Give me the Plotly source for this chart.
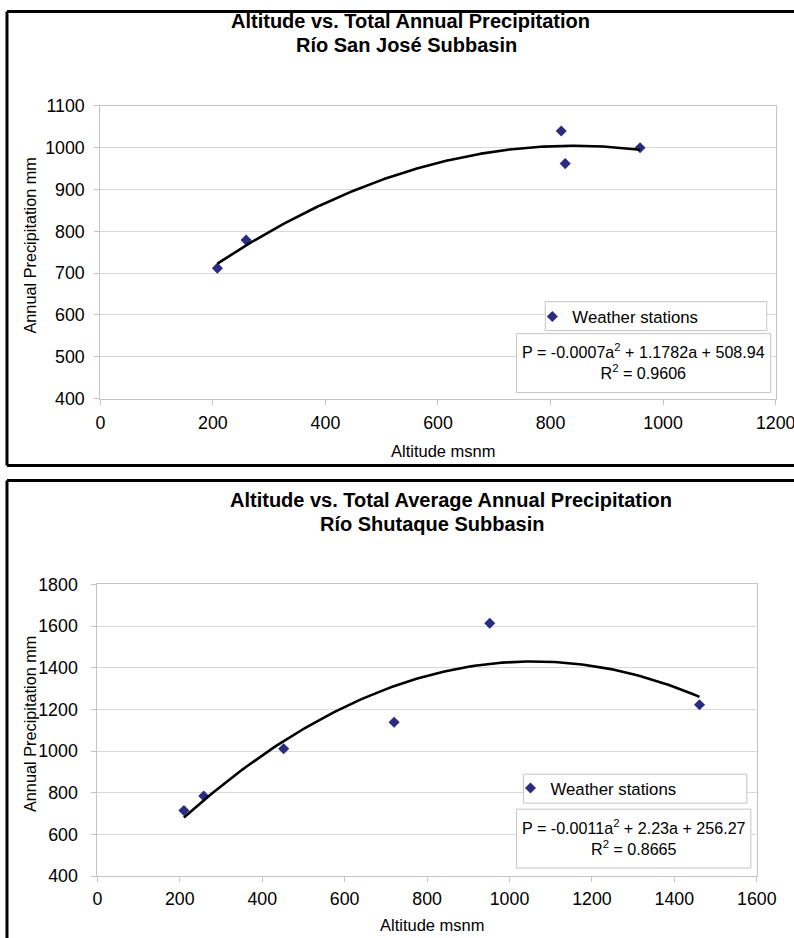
import numpy as np
import plotly.graph_objects as go

# The photographed window shows the page slightly reduced, so positions
# measured on the reference (ref px) are turned into page px first.
SX, OX = 0.976, 2.0
SY, OY = 0.98, 8.0
FW, FH = 814, 950

# ---- data ----
sj_altitude = [208, 259, 819, 826, 959]
sj_precip = [712, 779, 1040, 962, 1000]
sj_equation = "P = -0.0007a<sup>2</sup> + 1.1782a + 508.94<br>R<sup>2</sup> = 0.9606"
sj_title = ["Altitude vs. Total Annual Precipitation", "Río San José Subbasin"]
sj_xticks = [0, 200, 400, 600, 800, 1000, 1200]
sj_yticks = [400, 500, 600, 700, 800, 900, 1000, 1100]

sh_altitude = [210, 258, 452, 720, 952, 1461]
sh_precip = [715, 784, 1011, 1138, 1613, 1222]
sh_equation = "P = -0.0011a<sup>2</sup> + 2.23a + 256.27<br>R<sup>2</sup> = 0.8665"
sh_title = ["Altitude vs. Total Average Annual Precipitation", "Río Shutaque Subbasin"]
sh_xticks = [0, 200, 400, 600, 800, 1000, 1200, 1400, 1600]
sh_yticks = [400, 600, 800, 1000, 1200, 1400, 1600, 1800]

NAVY = "#2b2b82"
GRID = "#d9d9d9"
AXIS = "#c4c4c4"
FONT = "Liberation Sans, Arial, sans-serif"


def px(x):
    return (x - OX) / SX / FW


def py(y):
    return 1 - (y - OY) / SY / FH


fig = go.Figure()


def add_panel(alt, precip, xa, ya, legend):
    fig.add_trace(go.Scatter(
        x=alt, y=precip, mode="markers", name="Weather stations",
        marker=dict(symbol="diamond", size=8.5, color=NAVY),
        xaxis=xa, yaxis=ya, legend=legend))
    # 2nd order polynomial trendline fitted to the stations
    coef = np.polyfit(alt, precip, 2)
    xs = np.linspace(min(alt), max(alt), 150)
    fig.add_trace(go.Scatter(
        x=xs, y=np.polyval(coef, xs), mode="lines",
        line=dict(color="black", width=2.6), showlegend=False,
        hoverinfo="skip", xaxis=xa, yaxis=ya))


add_panel(sj_altitude, sj_precip, "x", "y", "legend")
add_panel(sh_altitude, sh_precip, "x2", "y2", "legend2")

axis_common = dict(
    showline=True, linecolor=AXIS, linewidth=1, mirror=True,
    ticks="outside", tickcolor=AXIS, ticklen=5,
    tickfont=dict(family=FONT, size=17.8, color="black"),
    zeroline=False,
)
legend_common = dict(xanchor="left", yanchor="middle", bgcolor="rgba(0,0,0,0)",
                     borderwidth=0, itemwidth=30,
                     font=dict(family=FONT, size=16.8, color="black"))

fig.update_layout(
    width=FW, height=FH,
    margin=dict(l=0, r=0, t=0, b=0),
    paper_bgcolor="white", plot_bgcolor="white",
    font=dict(family=FONT, color="black"),
    xaxis=dict(domain=[px(98), px(778)], anchor="y", range=[0, 1200],
               tickvals=sj_xticks, showgrid=False, ticklabelstandoff=3, **axis_common),
    yaxis=dict(domain=[py(397), py(104)], anchor="x", range=[400, 1100],
               tickvals=sj_yticks, showgrid=True, gridcolor=GRID,
               ticklabelstandoff=6, **axis_common),
    xaxis2=dict(domain=[px(95), px(759)], anchor="y2", range=[0, 1600],
                tickvals=sh_xticks, showgrid=False, ticklabelstandoff=2, **axis_common),
    yaxis2=dict(domain=[py(875), py(583)], anchor="x2", range=[400, 1800],
                tickvals=sh_yticks, showgrid=True, gridcolor=GRID,
                ticklabelstandoff=10, **axis_common),
    legend=dict(x=px(533), y=py(315), **legend_common),
    legend2=dict(x=px(511), y=py(787), **legend_common),
    showlegend=True,
)

frame = dict(color="black", width=3)
left, top1, bot1, top2 = px(4), py(9.5), py(464), py(479)
shapes = [
    # outer chart frames (their right and lower edges run past the page)
    dict(type="line", xref="paper", yref="paper", x0=left, x1=1, y0=top1, y1=top1, line=frame),
    dict(type="line", xref="paper", yref="paper", x0=left, x1=1, y0=bot1, y1=bot1, line=frame),
    dict(type="line", xref="paper", yref="paper", x0=left, x1=left, y0=bot1, y1=top1, line=frame),
    dict(type="line", xref="paper", yref="paper", x0=left, x1=1, y0=top2, y1=top2, line=frame),
    dict(type="line", xref="paper", yref="paper", x0=left, x1=left, y0=0, y1=top2, line=frame),
    # legend and equation boxes
    dict(type="rect", xref="paper", yref="paper", x0=px(546), x1=px(769), y0=py(329), y1=py(300),
         line=dict(color=AXIS, width=1), fillcolor="white", layer="above"),
    dict(type="rect", xref="paper", yref="paper", x0=px(517), x1=px(773), y0=py(391), y1=py(332),
         line=dict(color=AXIS, width=1), fillcolor="white", layer="above"),
    dict(type="rect", xref="paper", yref="paper", x0=px(524), x1=px(749), y0=py(802), y1=py(773),
         line=dict(color=AXIS, width=1), fillcolor="white", layer="above"),
    dict(type="rect", xref="paper", yref="paper", x0=px(517), x1=px(753), y0=py(867), y1=py(808),
         line=dict(color=AXIS, width=1), fillcolor="white", layer="above"),
]
fig.update_layout(shapes=shapes)


def note(text, x, y, size=16, angle=0):
    fig.add_annotation(text=text, x=px(x), y=py(y), xref="paper", yref="paper",
                       xanchor="center", yanchor="middle", showarrow=False, textangle=angle,
                       font=dict(family=FONT, size=size, color="black"))


# titles
note("<b>%s</b>" % sj_title[0], 410, 19, size=20)
note("<b>%s</b>" % sj_title[1], 406, 43, size=20)
note("<b>%s</b>" % sh_title[0], 451, 499, size=20)
note("<b>%s</b>" % sh_title[1], 432, 523, size=20)

# axis titles
note("Altitude msnm", 444, 449, size=16.5)
note("Annual Precipitation mm", 27, 244, size=16.3, angle=-90)
note("Altitude msnm", 432, 924, size=16.5)
note("Annual Precipitation mm", 27, 723, size=16.3, angle=-90)

# trendline equations
note(sj_equation, 645, 360, size=16.1)
note(sh_equation, 635, 836, size=16.1)

fig.write_html("out.html", config={"displayModeBar": False},
               post_script="document.body.style.margin='0';document.body.style.overflow='hidden';")
